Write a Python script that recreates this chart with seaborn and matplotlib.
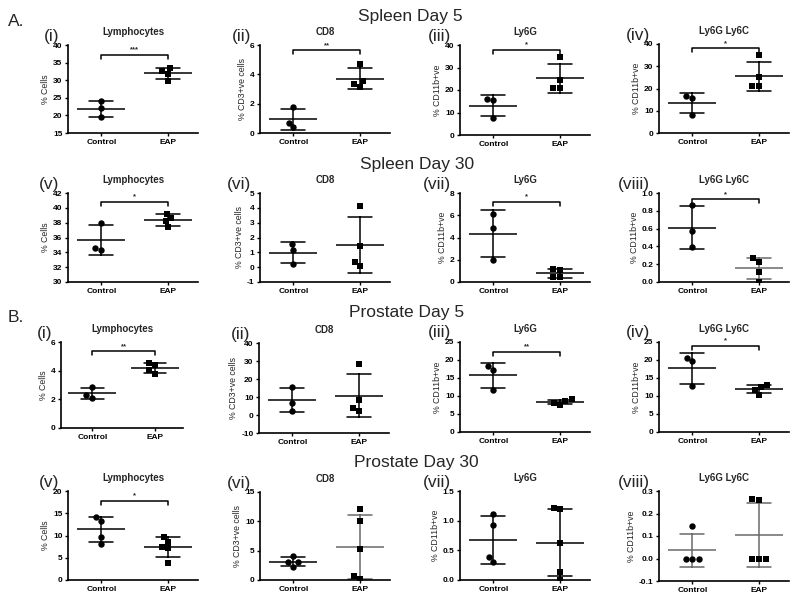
import numpy as np
import pandas as pd
import matplotlib
matplotlib.use("Agg")
import matplotlib.pyplot as plt
import matplotlib.transforms as mtransforms
import seaborn as sns

sns.set_theme(style="ticks")
plt.rcParams["font.family"] = ["Liberation Sans", "DejaVu Sans"]
plt.rcParams["axes.unicode_minus"] = False

groups = ["Control", "EAP"]

# ---------------- data ----------------
# Spleen Day 5
sp5_lym_ctrl = [24.0, 22.0, 19.5]
sp5_lym_eap = [33.6, 32.5, 31.9, 29.9]
sp5_cd8_ctrl = [1.75, 0.70, 0.38]
sp5_cd8_eap = [4.73, 3.53, 3.33, 3.15]
sp5_ly6g_ctrl = [15.7, 15.9, 7.5]
sp5_ly6g_eap = [34.6, 24.6, 21.0, 21.0]
sp5_ly6gc_ctrl = [16.5, 15.8, 8.3]
sp5_ly6gc_eap = [35.0, 25.0, 21.2, 21.2]
# Spleen Day 30
sp30_lym_ctrl = [37.97, 34.3, 34.6]
sp30_lym_eap = [39.2, 38.6, 38.2, 37.4]
sp30_cd8_ctrl = [1.57, 1.15, 0.23]
sp30_cd8_eap = [4.15, 1.42, 0.34, 0.07]
sp30_ly6g_ctrl = [6.11, 4.86, 2.01]
sp30_ly6g_eap = [1.2, 1.1, 0.45, 0.45]
sp30_ly6gc_ctrl = [0.87, 0.57, 0.39]
sp30_ly6gc_eap = [0.23, 0.27, 0.11, 0.0]
# Prostate Day 5
pr5_lym_ctrl = [2.86, 2.33, 2.12]
pr5_lym_eap = [4.53, 4.37, 4.02, 3.79]
pr5_cd8_ctrl = [15.5, 6.5, 2.5]
pr5_cd8_eap = [28.5, 8.2, 4.0, 2.5]
pr5_ly6g_ctrl = [18.2, 17.3, 11.8]
pr5_ly6g_eap = [8.6, 9.1, 8.1, 7.5]
pr5_ly6gc_ctrl = [20.65, 19.7, 12.7]
pr5_ly6gc_eap = [13.0, 12.5, 11.8, 10.4]
# Prostate Day 30
pr30_lym_ctrl = [14.2, 13.3, 9.7, 8.2]
pr30_lym_eap = [9.7, 8.6, 7.5, 7.1, 3.75]
pr30_cd8_ctrl = [4.08, 3.11, 3.0, 2.26]
pr30_cd8_eap = [12.17, 10.0, 5.2, 0.68, 0.1]
pr30_ly6g_ctrl = [1.115, 0.92, 0.38, 0.295]
pr30_ly6g_eap = [1.217, 1.19, 0.62, 0.13, 0.0]
pr30_ly6gc_ctrl = [0.145, 0.0, 0.0, 0.0]
pr30_ly6gc_eap = [0.265, 0.26, 0.0, 0.0, 0.0]

titles = ["Lymphocytes", "CD8", "Ly6G", "Ly6G Ly6C"]
ylabels = ["% Cells", "% CD3+ve cells", "% CD11b+ve", "% CD11b+ve"]
romans = [["(i)", "(ii)", "(iii)", "(iv)"], ["(v)", "(vi)", "(vii)", "(viii)"],
          ["(i)", "(ii)", "(iii)", "(iv)"], ["(v)", "(vi)", "(vii)", "(viii)"]]
section_titles = ["Spleen Day 5", "Spleen Day 30", "Prostate Day 5", "Prostate Day 30"]

panel_data = [
    [(sp5_lym_ctrl, sp5_lym_eap), (sp5_cd8_ctrl, sp5_cd8_eap),
     (sp5_ly6g_ctrl, sp5_ly6g_eap), (sp5_ly6gc_ctrl, sp5_ly6gc_eap)],
    [(sp30_lym_ctrl, sp30_lym_eap), (sp30_cd8_ctrl, sp30_cd8_eap),
     (sp30_ly6g_ctrl, sp30_ly6g_eap), (sp30_ly6gc_ctrl, sp30_ly6gc_eap)],
    [(pr5_lym_ctrl, pr5_lym_eap), (pr5_cd8_ctrl, pr5_cd8_eap),
     (pr5_ly6g_ctrl, pr5_ly6g_eap), (pr5_ly6gc_ctrl, pr5_ly6gc_eap)],
    [(pr30_lym_ctrl, pr30_lym_eap), (pr30_cd8_ctrl, pr30_cd8_eap),
     (pr30_ly6g_ctrl, pr30_ly6g_eap), (pr30_ly6gc_ctrl, pr30_ly6gc_eap)],
]

yticks = [
    [[15, 20, 25, 30, 35, 40], [0, 2, 4, 6], [0, 10, 20, 30, 40], [0, 10, 20, 30, 40]],
    [[30, 32, 34, 36, 38, 40, 42], [-1, 0, 1, 2, 3, 4, 5], [0, 2, 4, 6, 8],
     [0.0, 0.2, 0.4, 0.6, 0.8, 1.0]],
    [[0, 2, 4, 6], [-10, 0, 10, 20, 30, 40], [0, 5, 10, 15, 20, 25], [0, 5, 10, 15, 20, 25]],
    [[0, 5, 10, 15, 20], [0, 5, 10, 15], [0.0, 0.5, 1.0, 1.5], [-0.1, 0.0, 0.1, 0.2, 0.3]],
]

stars = [
    ["***", "**", "*", "*"],
    ["*", None, "*", "*"],
    ["**", None, "**", "*"],
    ["*", None, None, None],
]

# ---------------- layout (pixels) ----------------
W, H = 800, 599
rects = [
    [(68, 45, 130, 88), (260, 45, 130, 88), (460, 45, 130, 90), (659, 44, 130, 89)],
    [(68, 193, 130, 89), (260, 193, 130, 89), (460, 193, 130, 89), (659, 193, 130, 89)],
    [(61, 342, 122, 86), (259, 343, 130, 90), (460, 342, 130, 90), (659, 342, 130, 90)],
    [(68, 491, 130, 89), (260, 492, 130, 88), (460, 491, 130, 89), (659, 491, 130, 90)],
]
bracket_frac = [
    [0.89, 0.94, 0.95, 0.95],
    [0.90, None, 0.90, 0.93],
    [0.89, None, 0.89, 0.96],
    [0.89, None, None, None],
]
grey = "#6a6a6a"
line_cols = [
    [("black", "black")] * 4,
    [("black", "black")] * 3 + [("black", grey)],
    [("black", "black")] * 4,
    [("black", "black"), ("black", grey), ("black", "black"), (grey, grey)],
]
section_pos = [(410, 16), (417, 165), (407, 312), (416, 462)]
letter_pos = [("A.", 8, 21), ("B.", 8, 318)]

fig = plt.figure(figsize=(W / 100, H / 100), dpi=100)

for r in range(4):
    for c in range(4):
        lx, ty, w, h = rects[r][c]
        ax = fig.add_axes([lx / W, 1 - (ty + h) / H, w / W, h / H])
        ctrl, eap = panel_data[r][c]
        df = pd.DataFrame({
            "group": ["Control"] * len(ctrl) + ["EAP"] * len(eap),
            "value": list(ctrl) + list(eap),
        })
        pal = {"Control": line_cols[r][c][0], "EAP": line_cols[r][c][1]}
        sns.pointplot(data=df, x="group", y="value", hue="group", order=groups,
                      hue_order=groups, palette=pal, errorbar="sd", capsize=0.36,
                      marker="_", markersize=34, markeredgewidth=1.1,
                      linestyle="none", linewidth=1.1, err_kws={"linewidth": 1.1},
                      legend=False, ax=ax)
        for g, mk in zip(groups, ["o", "s"]):
            sns.swarmplot(data=df[df["group"] == g], x="group", y="value",
                          order=groups, marker=mk, size=4.6, color="black",
                          linewidth=0, ax=ax, zorder=3)
        yt = yticks[r][c]
        ax.set_ylim(yt[0], yt[-1])
        ax.set_yticks(yt)
        ax.set_xlim(-0.5, 1.45)
        ax.set_xlabel("")
        ax.set_ylabel(ylabels[c], fontsize=6.3, labelpad=2)
        ax.set_title(titles[c], fontsize=7, fontweight="bold", pad=7)
        for sp in ["top", "right"]:
            ax.spines[sp].set_visible(False)
        for sp in ["left", "bottom"]:
            ax.spines[sp].set_linewidth(1.2)
            ax.spines[sp].set_color("black")
        ax.tick_params(axis="both", length=2.5, width=1.0, labelsize=6, pad=1.5,
                       colors="black")
        for lab in ax.get_xticklabels() + ax.get_yticklabels():
            lab.set_fontweight("bold")
        ax.text(-0.07, 1.10, romans[r][c], transform=ax.transAxes, ha="right",
                va="center", fontsize=12.5)
        if stars[r][c] is not None:
            fb = bracket_frac[r][c]
            tr = mtransforms.blended_transform_factory(ax.transData, ax.transAxes)
            ax.plot([0, 0, 1, 1], [fb - 0.045, fb, fb, fb - 0.045], color="black",
                    lw=1.1, transform=tr, clip_on=False)
            ax.text(0.5, fb + 0.015, stars[r][c], transform=tr, ha="center",
                    va="bottom", fontsize=5.5, fontweight="bold")

for t, (x, y) in zip(section_titles, section_pos):
    fig.text(x / W, 1 - y / H, t, ha="center", va="center", fontsize=12.5)
for t, x, y in letter_pos:
    fig.text(x / W, 1 - y / H, t, ha="left", va="center", fontsize=12.5)

fig.savefig("out.png", dpi=100)
